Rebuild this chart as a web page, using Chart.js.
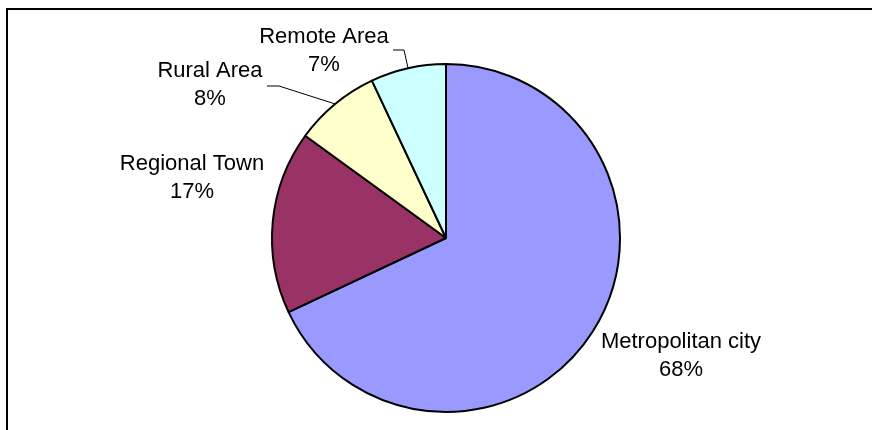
<!DOCTYPE html>
<html>
<head>
    <title>Area</title>
    <script src="https://cdn.jsdelivr.net/npm/chart.js@4/dist/chart.umd.min.js"></script>
    <style>
        body { margin: 0; background: #fff; }
    </style>
</head>
<body>
    <canvas id="myChart" width="872" height="430"></canvas>

    <script>
        var categories = ['Metropolitan city', 'Regional Town', 'Rural Area', 'Remote Area'];
        var values = [68, 17, 8, 7];
        var colors = ['#9999FF', '#993366', '#FFFFCC', '#CCFFFF'];

        // where each label sits; leader = elbow point + end of the short horizontal stub
        var labelSpots = [
            { x: 681, y: 342 },
            { x: 192, y: 164 },
            { x: 210, y: 71, elbow: [279, 86], stub: [267, 86] },
            { x: 324, y: 37, elbow: [404, 50], stub: [393, 50] }
        ];

        var frame = {
            id: 'frame',
            beforeDraw: function(chart) {
                var c = chart.ctx;
                c.save();
                c.strokeStyle = '#000';
                c.lineWidth = 2;
                c.beginPath();
                c.moveTo(7, chart.height);
                c.lineTo(7, 9);
                c.lineTo(chart.width, 9);
                c.stroke();
                c.restore();
            }
        };

        var sliceLabels = {
            id: 'sliceLabels',
            afterDraw: function(chart) {
                var c = chart.ctx;
                var meta = chart.getDatasetMeta(0);
                var total = values.reduce(function(a, b) { return a + b; }, 0);
                c.save();
                c.font = '22px "Liberation Sans", Arial, sans-serif';
                c.fillStyle = '#000';
                c.textAlign = 'center';
                c.textBaseline = 'middle';
                meta.data.forEach(function(arc, i) {
                    var spot = labelSpots[i];
                    var pct = Math.round(values[i] / total * 100) + '%';
                    c.fillText(categories[i], spot.x, spot.y);
                    c.fillText(pct, spot.x, spot.y + 28);
                    if (spot.elbow) {
                        var mid = (arc.startAngle + arc.endAngle) / 2;
                        var ex = arc.x + Math.cos(mid) * arc.outerRadius;
                        var ey = arc.y + Math.sin(mid) * arc.outerRadius;
                        c.strokeStyle = '#000';
                        c.lineWidth = 1;
                        c.beginPath();
                        c.moveTo(ex, ey);
                        c.lineTo(spot.elbow[0], spot.elbow[1]);
                        c.lineTo(spot.stub[0], spot.stub[1]);
                        c.stroke();
                    }
                });
                c.restore();
            }
        };

        var ctx = document.getElementById('myChart').getContext('2d');
        var chart = new Chart(ctx, {
            type: 'pie',
            data: {
                labels: categories,
                datasets: [{
                    data: values,
                    backgroundColor: colors,
                    borderColor: '#000',
                    borderWidth: 2
                }]
            },
            options: {
                responsive: false,
                animation: false,
                layout: {
                    padding: { top: 63, bottom: 17, left: 20, right: 0 }
                },
                plugins: {
                    legend: { display: false },
                    tooltip: { enabled: false }
                }
            },
            plugins: [frame, sliceLabels]
        });
    </script>
</body>
</html>
